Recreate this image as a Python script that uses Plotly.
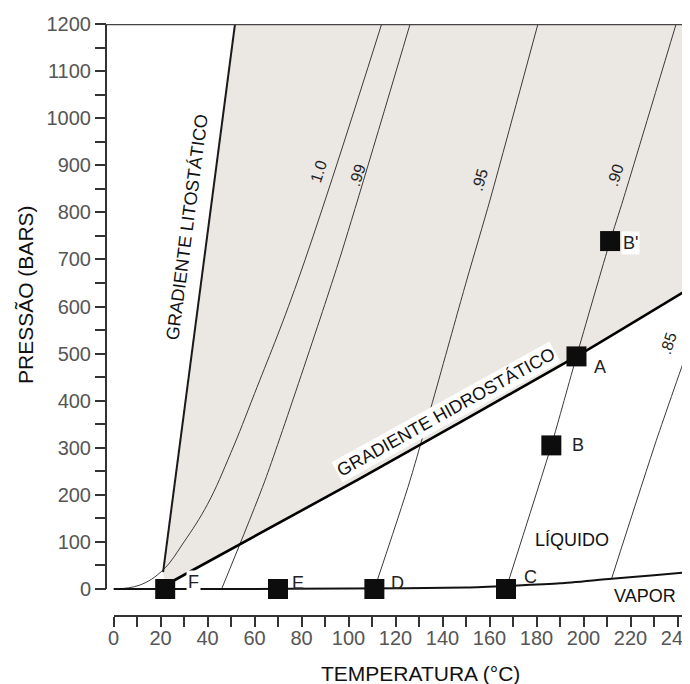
import plotly.graph_objects as go

# ---------------- data ----------------
# liquid-vapour (boiling) curve
sat_T = [0, 50, 100, 150, 170, 190, 212, 230, 245.3]
sat_P = [0, 0, 1, 3, 7, 12, 22, 29, 36]

# density isochores (g/cm3)
iso_names = ["1.0", ".99", ".95", ".90", ".85"]
iso_T = [
    [0, 11, 21, 30, 40, 50, 60, 78.5, 114.1],
    [46, 64.5, 95.5, 126.2],
    [111, 126.2, 150.3, 160.2, 180.6],
    [167, 186.3, 197, 211.3, 216.8, 239.4],
    [212, 231, 245.3, 250],
]
iso_P = [
    [0, 8, 40, 100, 180, 290, 415, 656, 1200],
    [0, 231, 690, 1200],
    [0, 231, 656, 826, 1200],
    [0, 305, 494, 739, 826, 1200],
    [23, 316, 522, 590],
]
iso_smooth = [1.1, 0.6, 0.6, 0.6, 0.6]
# label positions of the isochores (T, P)
iso_lab_T = [87.4, 103.6, 156.0, 213.4, 236.0]
iso_lab_P = [886, 879, 869, 879, 522]
iso_lab_angle = [-72, -72, -74, -72, -72]

# lithostatic and hydrostatic gradients
lito_T = [21.1, 51.7]
lito_P = [36, 1200]
hidro_T = [22, 105, 197, 245.3]
hidro_P = [8, 235, 494, 639]

# sample points
pt_names = ["F", "E", "D", "C", "B", "A", "B'"]
pt_T = [22, 70, 111, 167, 186.3, 197, 211.3]
pt_P = [0, 0, 0, 0, 305, 494, 739]

x_ticks = list(range(0, 241, 20))
y_ticks = list(range(0, 1201, 100))
y_minor = list(range(50, 1200, 100))

P_TOP = 1200

# ---------------- layout geometry ----------------
OFF = 8                      # page body margin of the browser
W, H = 690 - OFF, 684 - OFF  # figure size that fills the window


def px(xw):
    return (xw - OFF) / W


def py(yw):
    return (H - (yw - OFF)) / H


X_RANGE = [0, 245.3]
Y_RANGE = [-55.2, 1200]
x_dom = [px(113.5), 1.0]
y_dom = [py(615), py(24)]
y_axis_pos = px(106)

FONT = "Liberation Sans, Arial, Helvetica, sans-serif"

fig = go.Figure()

# shaded field between the gradients
poly_T = lito_T + [hidro_T[-1]] + hidro_T[::-1]
poly_P = lito_P + [P_TOP] + hidro_P[::-1]
fig.add_trace(go.Scatter(x=poly_T, y=poly_P, fill="toself", fillcolor="#ebe7e3",
                         line=dict(width=0), mode="lines", hoverinfo="skip",
                         showlegend=False))

# isochores
for t, p, s in zip(iso_T, iso_P, iso_smooth):
    fig.add_trace(go.Scatter(x=t, y=p, mode="lines",
                             line=dict(color="#3a3a3a", width=1, shape="spline",
                                       smoothing=s),
                             showlegend=False, hoverinfo="skip"))

# boiling curve
fig.add_trace(go.Scatter(x=sat_T, y=sat_P, mode="lines",
                         line=dict(color="#111111", width=2, shape="spline", smoothing=0.6),
                         showlegend=False, hoverinfo="skip"))

# gradients
fig.add_trace(go.Scatter(x=lito_T, y=lito_P, mode="lines",
                         line=dict(color="#1a1a1a", width=2),
                         showlegend=False, hoverinfo="skip"))
fig.add_trace(go.Scatter(x=hidro_T, y=hidro_P, mode="lines",
                         line=dict(color="#000000", width=2.6, shape="spline", smoothing=0.4),
                         showlegend=False, hoverinfo="skip"))

# points
fig.add_trace(go.Scatter(x=pt_T, y=pt_P, mode="markers",
                         marker=dict(symbol="square", size=20, color="#0d0d0d",
                                     line=dict(width=0)),
                         cliponaxis=False, showlegend=False, hoverinfo="skip"))

annotations = []
# point labels
pt_shift = {"F": (28, 7), "E": (20, 6), "D": (23, 6), "C": (25, 12),
            "B": (27, 0), "A": (24, -11), "B'": (20, -2)}
for n, t, p in zip(pt_names, pt_T, pt_P):
    dx, dy = pt_shift[n]
    annotations.append(dict(x=t, y=p, xref="x", yref="y", text=n, showarrow=False,
                            xshift=dx, yshift=dy,
                            font=dict(family=FONT, size=18, color="#222222"),
                            bgcolor="white" if n in ("F", "B'") else None,
                            borderpad=1))

# isochore labels
for n, t, p, a in zip(iso_names, iso_lab_T, iso_lab_P, iso_lab_angle):
    annotations.append(dict(x=t, y=p, xref="x", yref="y", text=n, showarrow=False,
                            textangle=a, font=dict(family=FONT, size=16, color="#222222")))

# gradient labels
annotations.append(dict(x=31.3, y=769, xref="x", yref="y", text="GRADIENTE LITOSTÁTICO",
                        showarrow=False, textangle=-82.5,
                        font=dict(family=FONT, size=18, color="#111111")))
annotations.append(dict(x=141.5, y=376, xref="x", yref="y", text="GRADIENTE HIDROSTÁTICO",
                        showarrow=False, textangle=-29, bgcolor="white", borderpad=1,
                        font=dict(family=FONT, size=18, color="#111111")))
# phase labels
annotations.append(dict(x=195, y=104, xref="x", yref="y", text="LÍQUIDO", showarrow=False,
                        font=dict(family=FONT, size=18, color="#111111")))
annotations.append(dict(x=226, y=-15, xref="x", yref="y", text="VAPOR", showarrow=False,
                        font=dict(family=FONT, size=18, color="#111111")))
# axis titles
annotations.append(dict(x=px(25), y=py(295), xref="paper", yref="paper",
                        xanchor="center", yanchor="middle",
                        text="PRESSÃO (BARS)", showarrow=False, textangle=-90,
                        font=dict(family=FONT, size=21, color="#111111")))
annotations.append(dict(x=px(420), y=py(673), xref="paper", yref="paper",
                        xanchor="center", yanchor="middle",
                        text="TEMPERATURA (°C)", showarrow=False,
                        font=dict(family=FONT, size=21, color="#111111")))

shapes = [
    # y axis line (0 .. 1200)
    dict(type="line", xref="paper", yref="y", x0=y_axis_pos, x1=y_axis_pos,
         y0=0, y1=P_TOP, line=dict(color="#333333", width=2)),
    # top border
    dict(type="line", xref="paper", yref="y", x0=y_axis_pos, x1=1,
         y0=P_TOP, y1=P_TOP, line=dict(color="#444444", width=2.5)),
]

fig.update_layout(
    template="none",
    width=W, height=H,
    margin=dict(l=0, r=0, t=0, b=0, pad=0, autoexpand=False),
    paper_bgcolor="white", plot_bgcolor="white",
    showlegend=False,
    annotations=annotations,
    shapes=shapes,
    xaxis=dict(domain=x_dom, range=X_RANGE, anchor="y", automargin=False,
               showgrid=False, zeroline=False,
               showline=True, linecolor="#333333", linewidth=2,
               tickmode="array", tickvals=x_ticks, ticks="outside",
               ticklen=10, tickwidth=2, tickcolor="#333333",
               ticklabelstandoff=-6, ticklabeloverflow="allow",
               minor=dict(dtick=10, tick0=0, ticks="outside", ticklen=10,
                          tickwidth=2, tickcolor="#333333", showgrid=False),
               tickfont=dict(family=FONT, size=20, color="#555555")),
    yaxis=dict(domain=y_dom, range=Y_RANGE, anchor="free", position=y_axis_pos,
               automargin=False,
               showgrid=False, zeroline=False, showline=False,
               tickmode="array", tickvals=y_ticks, ticks="outside",
               ticklen=11, tickwidth=2, tickcolor="#333333",
               minor=dict(tickmode="array", tickvals=y_minor, ticks="outside",
                          ticklen=11, tickwidth=2, tickcolor="#333333", showgrid=False),
               tickfont=dict(family=FONT, size=20, color="#555555")),
)

fig.write_html("out.html")
